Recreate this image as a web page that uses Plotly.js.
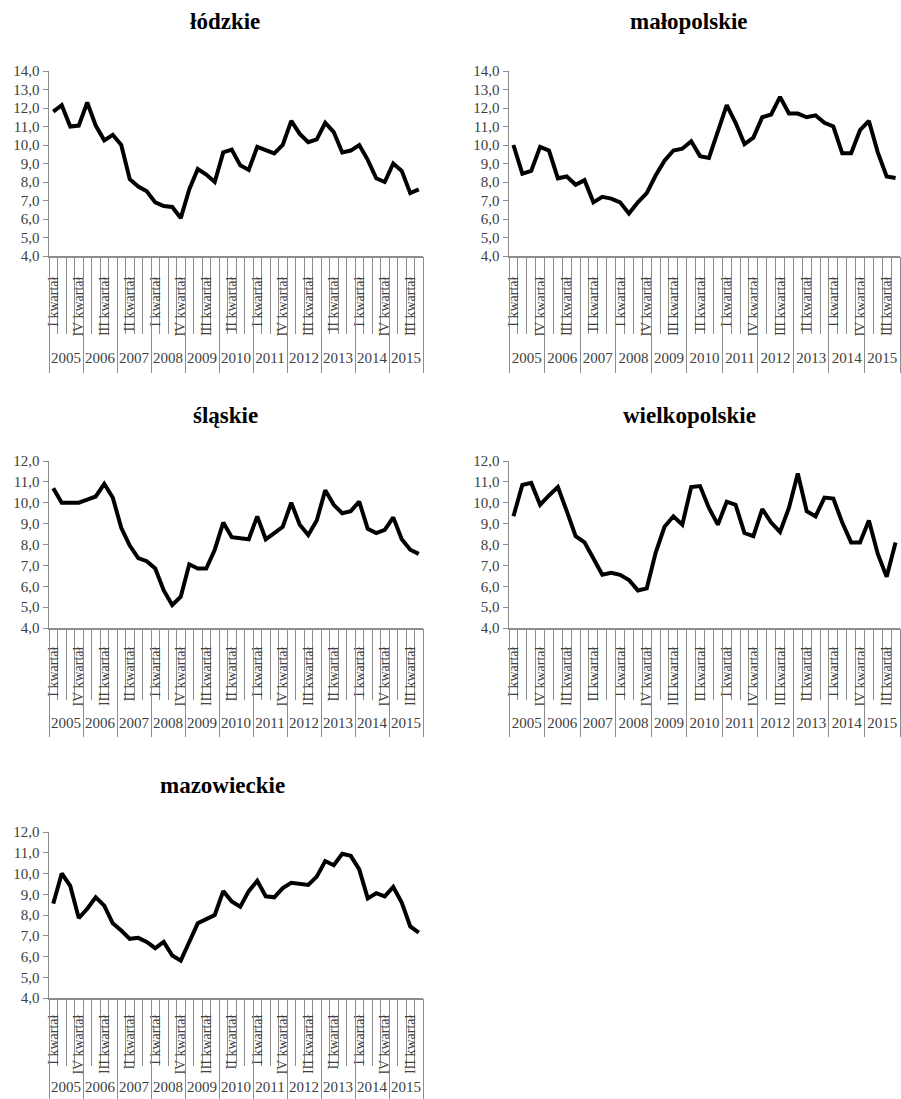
<!DOCTYPE html>
<html><head><meta charset="utf-8">
<script src="https://cdn.plot.ly/plotly-3.0.1.min.js"></script>
<style>html,body{margin:0;padding:0;background:#fff}</style>
</head><body><div id="chart" style="width:901px;height:1099px"></div>
<script>
// ---- data ----
const years = ['2005','2006','2007','2008','2009','2010','2011','2012','2013','2014','2015'];
const quarters = ['I kwartał','II kwartał','III kwartał','IV kwartał'];
const regions = ['łódzkie','małopolskie','śląskie','wielkopolskie','mazowieckie'];

const lodzkie = [11.8,12.15,11.0,11.05,12.3,11.05,10.25,10.55,10.0,8.15,7.75,7.5,6.9,6.7,6.65,6.05,7.6,8.7,8.4,8.0,9.6,9.75,8.9,8.65,9.9,9.75,9.55,10.0,11.3,10.6,10.15,10.3,11.2,10.7,9.6,9.7,10.0,9.2,8.2,8.0,9.0,8.6,7.4,7.6];
const malopolskie = [10.0,8.45,8.6,9.9,9.7,8.2,8.3,7.85,8.1,6.9,7.2,7.1,6.9,6.3,6.9,7.4,8.35,9.15,9.7,9.8,10.2,9.4,9.3,10.7,12.15,11.2,10.05,10.4,11.5,11.65,12.6,11.7,11.7,11.5,11.6,11.2,11.0,9.55,9.55,10.8,11.3,9.6,8.3,8.22];
const slaskie = [10.7,10.0,10.0,10.0,10.15,10.3,10.9,10.25,8.8,7.95,7.35,7.2,6.85,5.8,5.1,5.5,7.05,6.85,6.85,7.75,9.05,8.35,8.3,8.25,9.35,8.25,8.55,8.85,10.0,8.95,8.45,9.15,10.6,9.9,9.5,9.6,10.05,8.75,8.55,8.7,9.3,8.25,7.75,7.55];
const wielkopolskie = [9.35,10.85,10.95,9.9,10.35,10.75,9.6,8.4,8.1,7.3,6.55,6.65,6.55,6.3,5.8,5.9,7.6,8.85,9.35,8.95,10.75,10.8,9.75,8.95,10.05,9.9,8.55,8.4,9.7,9.05,8.6,9.75,11.4,9.6,9.35,10.25,10.2,9.05,8.1,8.1,9.15,7.55,6.45,8.1];
const mazowieckie = [8.55,10.0,9.4,7.85,8.3,8.85,8.45,7.6,7.25,6.85,6.9,6.7,6.4,6.7,6.05,5.8,6.7,7.6,7.8,8.0,9.15,8.65,8.4,9.15,9.65,8.9,8.85,9.3,9.55,9.5,9.45,9.85,10.6,10.4,10.95,10.85,10.2,8.8,9.05,8.9,9.35,8.6,7.45,7.15];
const seriesList = [lodzkie, malopolskie, slaskie, wielkopolskie, mazowieckie];
const yMaxList = [14,14,12,12,12];
const yMin = 4;

// ---- derived category positions ----
const idx = years.flatMap((y,i)=>quarters.map((q,j)=>i*4+j));
const labelIdx = idx.filter(i=>i%3===0);
const labelText = labelIdx.map(i=>quarters[i%4]);
const yearCenters = years.map((y,i)=>i*4+1.5);
const boundaries = idx.map(i=>i-0.5).concat([idx.length-0.5]);
const yearBounds = years.map((y,i)=>i*4-0.5).concat([years.length*4-0.5]);

// ---- layout geometry (px) ----
const W=901, H=1099;
// q: push of quarter labels, s: short divider length, yl: push of year labels, yb: year divider length
const cells = [
  {x0:49, x1:423, top:71, bot:256, tx:225, ty:22, q:14, s:76, yl:88, yb:116},
  {x0:509, x1:900, top:71, bot:256, tx:689, ty:22, q:14, s:76, yl:88, yb:116},
  {x0:49, x1:423, top:461, bot:628, tx:225, ty:415, q:12, s:70, yl:81, yb:108},
  {x0:509, x1:900, top:461, bot:628, tx:689, ty:415, q:12, s:70, yl:81, yb:108},
  {x0:49, x1:423, top:832, bot:998, tx:222, ty:785, q:10, s:66, yl:75, yb:101}
];
const gray='#8c8c8c';
const serif='"Liberation Serif", "DejaVu Serif", serif';
const tickFont={family:serif,size:15,color:'#404040'};

const data=[]; const layout={width:W,height:H,margin:{l:0,r:0,t:0,b:0},showlegend:false,
  paper_bgcolor:'#fff',plot_bgcolor:'rgba(0,0,0,0)',separators:', ',annotations:[]};
const range=[-0.5, idx.length-0.5];

cells.forEach((c,k)=>{
  const n=k+1, nq=k+6, ny=k+11;
  const xd=[c.x0/W, c.x1/W], yd=[1-c.bot/H, 1-c.top/H];
  data.push({type:'scatter',mode:'lines',x:idx,y:seriesList[k],xaxis:'x'+n,yaxis:'y'+n,
    line:{color:'#000',width:4},hoverinfo:'skip',cliponaxis:false});
  data.push({type:'scatter',mode:'lines',x:[],y:[],xaxis:'x'+nq,yaxis:'y'+n});
  data.push({type:'scatter',mode:'lines',x:[],y:[],xaxis:'x'+ny,yaxis:'y'+n});
  layout['xaxis'+n]={domain:xd,anchor:'y'+n,range:range,showgrid:false,zeroline:false,
    showline:true,linecolor:gray,linewidth:1.5,tickmode:'array',tickvals:boundaries,
    ticktext:boundaries.map(()=>''),showticklabels:false,ticks:'outside',ticklen:c.s,tickwidth:1,tickcolor:gray};
  layout['xaxis'+nq]={domain:xd,overlaying:'x'+n,anchor:'y'+n,range:range,showgrid:false,zeroline:false,
    showline:false,tickmode:'array',tickvals:labelIdx,ticktext:labelText,tickangle:-90,
    ticks:'outside',ticklen:c.q,tickcolor:'rgba(0,0,0,0)',tickfont:{family:serif,size:14,color:'#404040'}};
  layout['xaxis'+ny]={domain:xd,overlaying:'x'+n,anchor:'y'+n,range:range,showgrid:false,zeroline:false,
    showline:false,tickmode:'array',tickvals:yearCenters,ticktext:years,tickangle:0,
    ticks:'outside',ticklen:c.yl,tickcolor:'rgba(0,0,0,0)',tickfont:tickFont,
    minor:{tickmode:'array',tickvals:yearBounds,ticks:'outside',ticklen:c.yb,tickwidth:1,tickcolor:gray,showgrid:false}};
  layout['yaxis'+n]={domain:yd,anchor:'x'+n,range:[yMin,yMaxList[k]],dtick:1,tick0:0,tickformat:'.1f',
    showgrid:false,zeroline:false,showline:true,linecolor:gray,linewidth:1.5,ticks:'outside',ticklen:5,
    tickcolor:gray,tickwidth:1,tickfont:tickFont};
  layout.annotations.push({text:'<b>'+regions[k]+'</b>',xref:'paper',yref:'paper',x:c.tx/W,y:1-c.ty/H,
    xanchor:'center',yanchor:'middle',showarrow:false,font:{family:serif,size:23,color:'#000'}});
});

Plotly.newPlot('chart',data,layout,{staticPlot:true,displayModeBar:false});
</script></body></html>
